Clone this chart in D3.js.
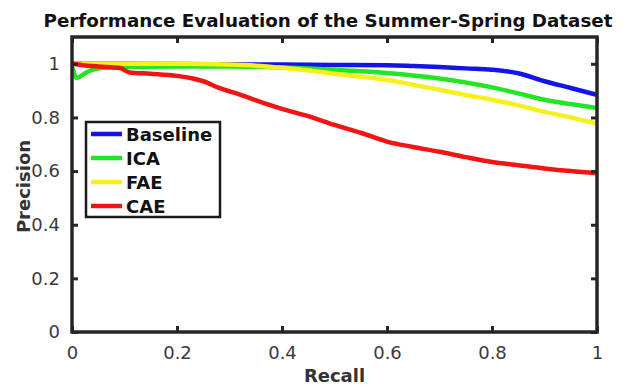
<!DOCTYPE html>
<html><head><meta charset="utf-8">
<script src="https://cdn.jsdelivr.net/npm/d3@7"></script>
<style>body{margin:0;background:#fff}svg{display:block}</style>
</head><body>
<svg id="c" width="641" height="388"></svg>
<script>
const xTicks = [0, 0.2, 0.4, 0.6, 0.8, 1];
const yTicks = [0, 0.2, 0.4, 0.6, 0.8, 1];
const seriesNames = ["Baseline", "ICA", "FAE", "CAE"];
const seriesColors = ["#1414e6", "#22e622", "#f7f01e", "#f01414"];

const baselineR = [0, 0.1, 0.2, 0.3, 0.4, 0.5, 0.6, 0.65, 0.7, 0.75, 0.8, 0.85, 0.9, 0.95, 1.0];
const baselineP = [1.0, 1.0, 0.999, 0.998, 0.997, 0.996, 0.995, 0.992, 0.988, 0.983, 0.978, 0.965, 0.935, 0.91, 0.884];
const icaR = [0, 0.004, 0.008, 0.015, 0.025, 0.04, 0.06, 0.1, 0.2, 0.3, 0.4, 0.5, 0.6, 0.7, 0.8, 0.85, 0.9, 0.95, 1.0];
const icaP = [0.99, 0.965, 0.948, 0.952, 0.965, 0.978, 0.985, 0.988, 0.99, 0.99, 0.986, 0.978, 0.966, 0.945, 0.912, 0.89, 0.866, 0.85, 0.835];
const faeR = [0, 0.1, 0.2, 0.3, 0.35, 0.4, 0.45, 0.5, 0.55, 0.6, 0.65, 0.7, 0.75, 0.8, 0.85, 0.9, 0.95, 1.0];
const faeP = [1.0, 1.0, 1.0, 0.997, 0.993, 0.985, 0.975, 0.963, 0.952, 0.94, 0.922, 0.903, 0.884, 0.866, 0.845, 0.821, 0.8, 0.777];
const caeR = [0, 0.02, 0.05, 0.09, 0.11, 0.15, 0.2, 0.23, 0.25, 0.28, 0.32, 0.36, 0.4, 0.45, 0.5, 0.55, 0.6, 0.65, 0.7, 0.75, 0.8, 0.85, 0.9, 0.95, 1.0];
const caeP = [1.0, 0.995, 0.99, 0.985, 0.968, 0.963, 0.955, 0.945, 0.935, 0.91, 0.885, 0.857, 0.832, 0.805, 0.772, 0.743, 0.71, 0.69, 0.672, 0.652, 0.634, 0.622, 0.61, 0.6, 0.592];

const seriesR = [baselineR, icaR, faeR, caeR];
const seriesP = [baselineP, icaP, faeP, caeP];

const svg = d3.select("#c");
const L = 72, R = 597, T = 37, B = 332;
const x = d3.scaleLinear().domain([0, 1]).range([L, R]);
const y = d3.scaleLinear().domain([0, 1.1]).range([B, T]);
const font = "DejaVu Sans, sans-serif";
const axisCol = "#262626";

const line = d3.line().x(d => x(d[0])).y(d => y(d[1])).curve(d3.curveMonotoneX);
svg.append("clipPath").attr("id", "pc").append("rect")
  .attr("x", L).attr("y", T).attr("width", R - L).attr("height", B - T);
seriesNames.forEach((n, i) => {
  const pts = seriesR[i].map((r, j) => [r, seriesP[i][j]]);
  svg.append("path").datum(pts).attr("d", line)
    .attr("fill", "none").attr("stroke", seriesColors[i])
    .attr("stroke-width", 4.5).attr("stroke-linejoin", "round")
    .attr("clip-path", "url(#pc)");
});

const tl = 6;
const gBottom = svg.append("g").attr("transform", `translate(0,${B})`)
  .call(d3.axisBottom(x).tickValues(xTicks).tickSizeInner(-tl).tickSizeOuter(0).tickPadding(tl + 8).tickFormat(d3.format("")));
const gLeft = svg.append("g").attr("transform", `translate(${L},0)`)
  .call(d3.axisLeft(y).tickValues(yTicks).tickSizeInner(-tl).tickSizeOuter(0).tickPadding(tl + 6).tickFormat(d3.format("")));
const gTop = svg.append("g").attr("transform", `translate(0,${T})`)
  .call(d3.axisTop(x).tickValues(xTicks).tickSizeInner(-tl).tickSizeOuter(0).tickFormat(""));
const gRight = svg.append("g").attr("transform", `translate(${R},0)`)
  .call(d3.axisRight(y).tickValues(yTicks).tickSizeInner(-tl).tickSizeOuter(0).tickFormat(""));
[gBottom, gLeft, gTop, gRight].forEach(g => {
  g.select(".domain").remove();
  g.selectAll(".tick line").attr("stroke", axisCol).attr("stroke-width", 3);
  g.selectAll("text").attr("fill", "#3a3a3a").style("font-family", font).style("font-size", "18px");
});
svg.append("rect").attr("x", L).attr("y", T).attr("width", R - L).attr("height", B - T)
  .attr("fill", "none").attr("stroke", axisCol).attr("stroke-width", 3.5);

svg.append("text").attr("x", 328).attr("y", 27).attr("text-anchor", "middle")
  .style("font-family", font).style("font-weight", "bold").style("font-size", "18.3px")
  .attr("fill", "#111").text("Performance Evaluation of the Summer-Spring Dataset");
svg.append("text").attr("x", (L + R) / 2).attr("y", 382).attr("text-anchor", "middle")
  .style("font-family", font).style("font-weight", "bold").style("font-size", "18px")
  .attr("fill", "#333").text("Recall");
svg.append("text").attr("transform", `translate(30,${(T + B) / 2 + 2}) rotate(-90)`).attr("text-anchor", "middle")
  .style("font-family", font).style("font-weight", "bold").style("font-size", "18px")
  .attr("fill", "#333").text("Precision");

const lg = svg.append("g");
lg.append("rect").attr("x", 86).attr("y", 122).attr("width", 134).attr("height", 95)
  .attr("fill", "#fff").attr("stroke", "#1a1a1a").attr("stroke-width", 2.5);
const ly = [134, 158, 182, 206];
seriesNames.forEach((n, i) => {
  lg.append("line").attr("x1", 91).attr("x2", 122).attr("y1", ly[i]).attr("y2", ly[i])
    .attr("stroke", seriesColors[i]).attr("stroke-width", 4.5);
  lg.append("text").attr("x", 126).attr("y", ly[i] + 6.5)
    .style("font-family", font).style("font-weight", "bold").style("font-size", "18px")
    .attr("fill", "#111").text(n);
});
</script>
</body></html>
